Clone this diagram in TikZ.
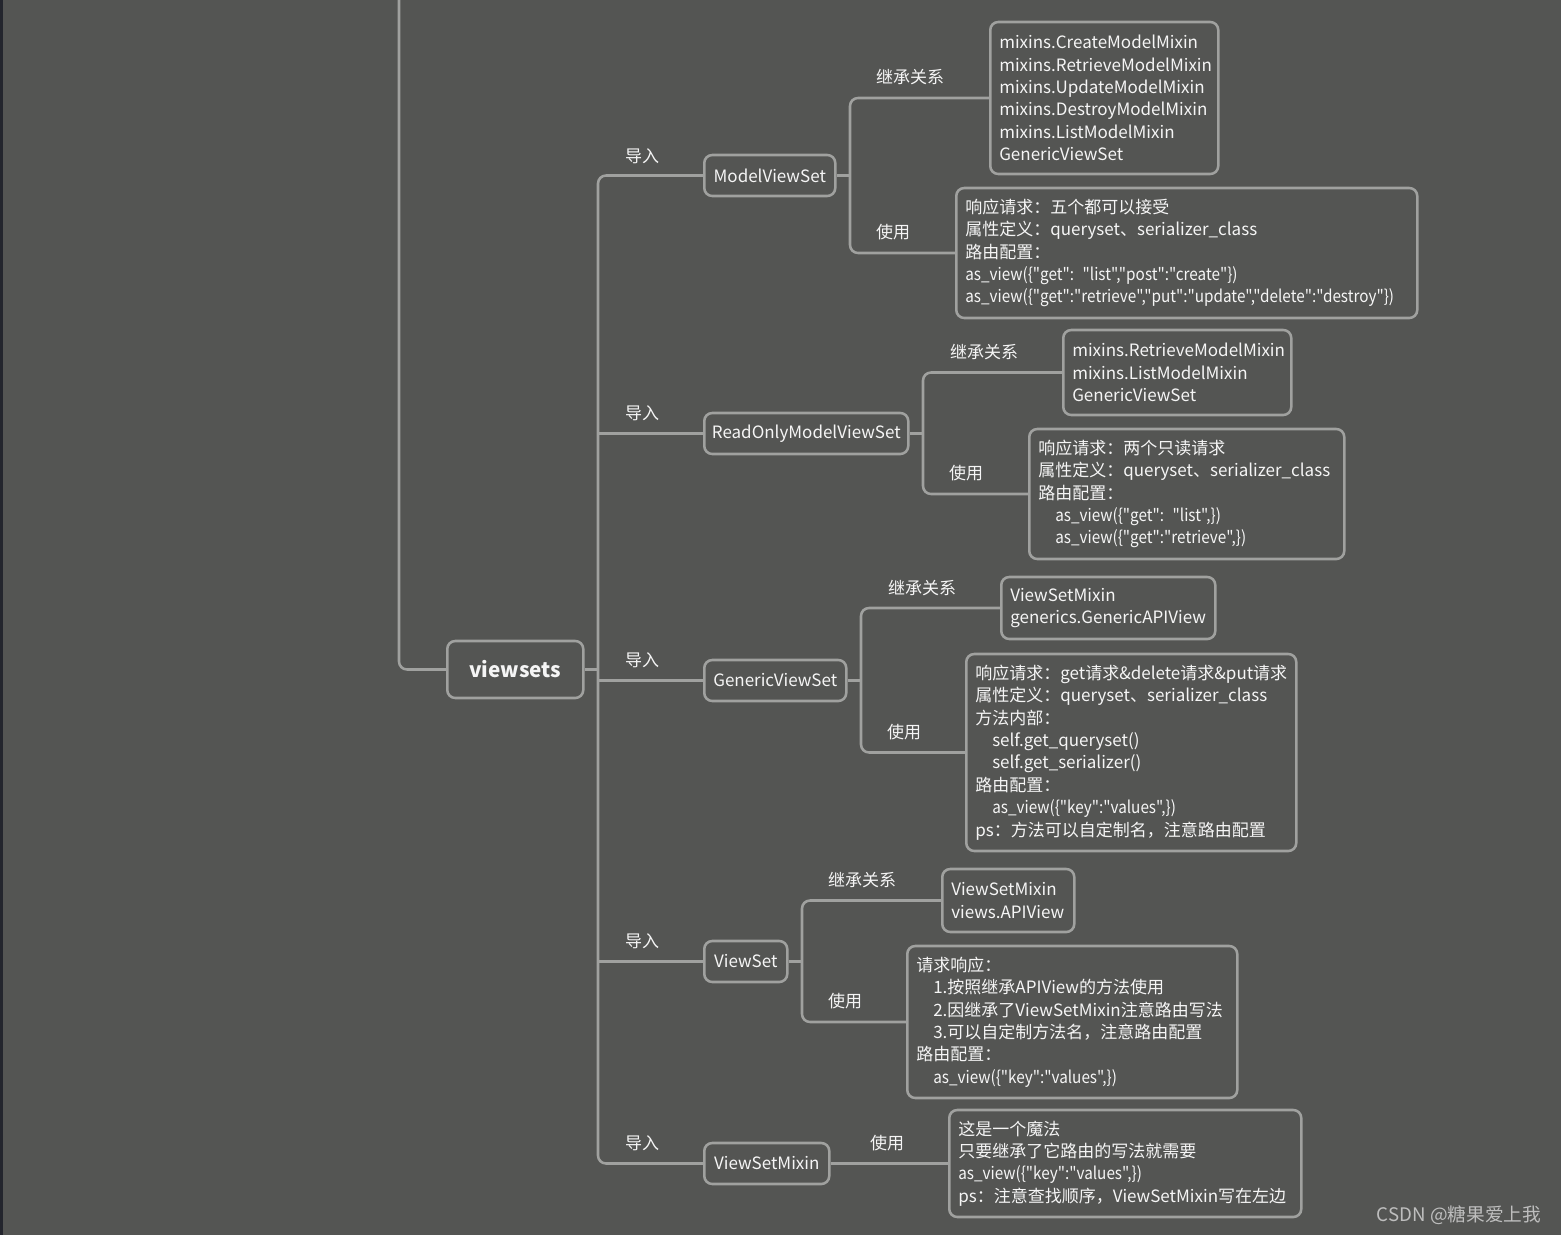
\documentclass[tikz,border=0pt]{standalone}
\usepackage{fontspec}
\newfontfamily\cjk{Noto Sans CJK SC}
\newfontfamily\tightfont{Noto Sans CJK SC}[FakeStretch=0.9]
\usepackage{tikz}
\usepackage{xcolor}
\definecolor{bgc}{RGB}{84,85,83}
\definecolor{strip}{RGB}{35,37,45}
\definecolor{edge}{RGB}{160,161,159}
\definecolor{ink}{RGB}{245,245,245}
\definecolor{mark}{RGB}{190,190,190}
\newcommand\fs{\fontsize{12.75pt}{16.8pt}\cjk\hyphenpenalty=10000\exhyphenpenalty=10000}
\newcommand\ind{\hspace*{1em}}
\newcommand\tight[1]{{\tightfont #1}}
\begin{document}
\begin{tikzpicture}[x=0.75pt,y=-0.75pt,
    link/.style={draw=edge,line width=1.9pt},
    box/.style={draw=edge,line width=1.9pt,rounded corners=6pt,text=ink,inner sep=0pt,anchor=west,font=\fs},
    main/.style={box,minimum height=30.75pt},
    note/.style={box,align=left,inner xsep=6.75pt},
    lbl/.style={text=ink,font=\fs,inner sep=0pt}]
    \fill[bgc] (0,0) rectangle (1561,1235);
    \fill[strip] (0,0) rectangle (2.5,1235);
    \useasboundingbox (0,0) rectangle (1561,1235);
    \coordinate (top) at (399,0);
    \coordinate (T) at (598,0);
    \node[box,minimum width=102pt,minimum height=42.75pt,font=\fontsize{15.5pt}{18pt}\cjk\bfseries] (VS) at (446,669.5) {viewsets};
    \node[main,minimum width=98.25pt] (MVS) at (703,175.5) {ModelViewSet};
    \node[main,minimum width=153pt] (ROM) at (703,433.5) {ReadOnlyModelViewSet};
    \node[main,minimum width=106.5pt] (GVS) at (703,680.5) {GenericViewSet};
    \node[main,minimum width=62.25pt] (VST) at (703,961.5) {ViewSet};
    \node[main,minimum width=93.75pt] (VSM) at (703,1163.5) {ViewSetMixin};
    \node[note,text width=157.5pt,minimum height=114pt] (MVSa) at (989,98) {mixins.CreateModelMixin\\mixins.RetrieveModelMixin\\mixins.UpdateModelMixin\\mixins.DestroyModelMixin\\mixins.ListModelMixin\\GenericViewSet};
    \node[note,text width=332.25pt,minimum height=97.5pt] (MVSb) at (955,253) {响应请求：五个都可以接受\\属性定义：queryset、serializer\_class\\路由配置：\\\tight{as\_view(\{"get": "list","post":"create"\})}\\\tight{as\_view(\{"get":"retrieve","put":"update","delete":"destroy"\})}};
    \node[note,text width=157.5pt,minimum height=63.75pt] (ROMa) at (1062,372.5) {mixins.RetrieveModelMixin\\mixins.ListModelMixin\\GenericViewSet};
    \node[note,text width=222.75pt,minimum height=97.5pt] (ROMb) at (1028,494) {响应请求：两个只读请求\\属性定义：queryset、serializer\_class\\路由配置：\\\ind \tight{as\_view(\{"get": "list",\})}\\\ind \tight{as\_view(\{"get":"retrieve",\})}};
    \node[note,text width=147pt,minimum height=46.5pt] (GVSa) at (1000,608) {ViewSetMixin\\generics.GenericAPIView};
    \node[note,text width=234pt,minimum height=147.75pt] (GVSb) at (965,752.5) {响应请求：get请求\&delete请求\&put请求\\属性定义：queryset、serializer\_class\\方法内部：\\\ind self.get\_queryset()\\\ind self.get\_serializer()\\路由配置：\\\ind \tight{as\_view(\{"key":"values",\})}\\ps：方法可以自定制名，注意路由配置};
    \node[note,text width=85.5pt,minimum height=47.25pt] (VSTa) at (941,900.5) {ViewSetMixin\\views.APIView};
    \node[note,text width=234pt,minimum height=114pt] (VSTb) at (906,1022) {请求响应：\\\ind 1.按照继承APIView的方法使用\\\ind 2.因继承了ViewSetMixin注意路由写法\\\ind 3.可以自定制方法名，注意路由配置\\路由配置：\\\ind \tight{as\_view(\{"key":"values",\})}};
    \node[note,text width=250.5pt,minimum height=80.25pt] (VSMa) at (948,1163.5) {这是一个魔法\\只要继承了它路由的写法就需要\\\tight{as\_view(\{"key":"values",\})}\\ps：注意查找顺序，ViewSetMixin写在左边};
    \node[lbl] (i1) at (642,156) {导入};
    \node[lbl] (i2) at (642,413) {导入};
    \node[lbl] (i3) at (642,660) {导入};
    \node[lbl] (i4) at (642,941) {导入};
    \node[lbl] (i5) at (642,1143) {导入};
    \node[lbl] (MVSh) at (910,77) {继承关系};
    \node[lbl] (MVSu) at (893,232) {使用};
    \node[lbl] (ROMh) at (984,352) {继承关系};
    \node[lbl] (ROMu) at (966,473) {使用};
    \node[lbl] (GVSh) at (922,588) {继承关系};
    \node[lbl] (GVSu) at (904,732) {使用};
    \node[lbl] (VSTh) at (862,880) {继承关系};
    \node[lbl] (VSTu) at (845,1001) {使用};
    \node[lbl] (VSMu) at (887,1143) {使用};
    \node[text=mark,font=\fontsize{14pt}{16pt}\cjk] (wm) at (1459,1215) {CSDN @糖果爱上我};
    \draw[link,rounded corners=6pt] (VS.west) -| (top);
    \draw[link] (VS.east) -- (VS.east -| T);
    \draw[link,rounded corners=6pt] (MVS.west) -- (MVS.west -| T) -- (VSM.west -| T) -- (VSM.west);
    \foreach \n in {ROM,GVS,VST}
        \draw[link] (\n.west) -- (\n.west -| T);
    \coordinate (J1) at (850,175.5);
    \coordinate (J2) at (923,433.5);
    \coordinate (J3) at (861,680.5);
    \coordinate (J4) at (802,961.5);
    \draw[link] (MVS.east) -- (J1);
    \draw[link,rounded corners=6pt] (MVSa.west) -| (J1) |- (MVSb.west);
    \draw[link] (ROM.east) -- (J2);
    \draw[link,rounded corners=6pt] (ROMa.west) -| (J2) |- (ROMb.west);
    \draw[link] (GVS.east) -- (J3);
    \draw[link,rounded corners=6pt] (GVSa.west) -| (J3) |- (GVSb.west);
    \draw[link] (VST.east) -- (J4);
    \draw[link,rounded corners=6pt] (VSTa.west) -| (J4) |- (VSTb.west);
    \draw[link] (VSM.east) -- (VSMa.west);
\end{tikzpicture}
\end{document}
